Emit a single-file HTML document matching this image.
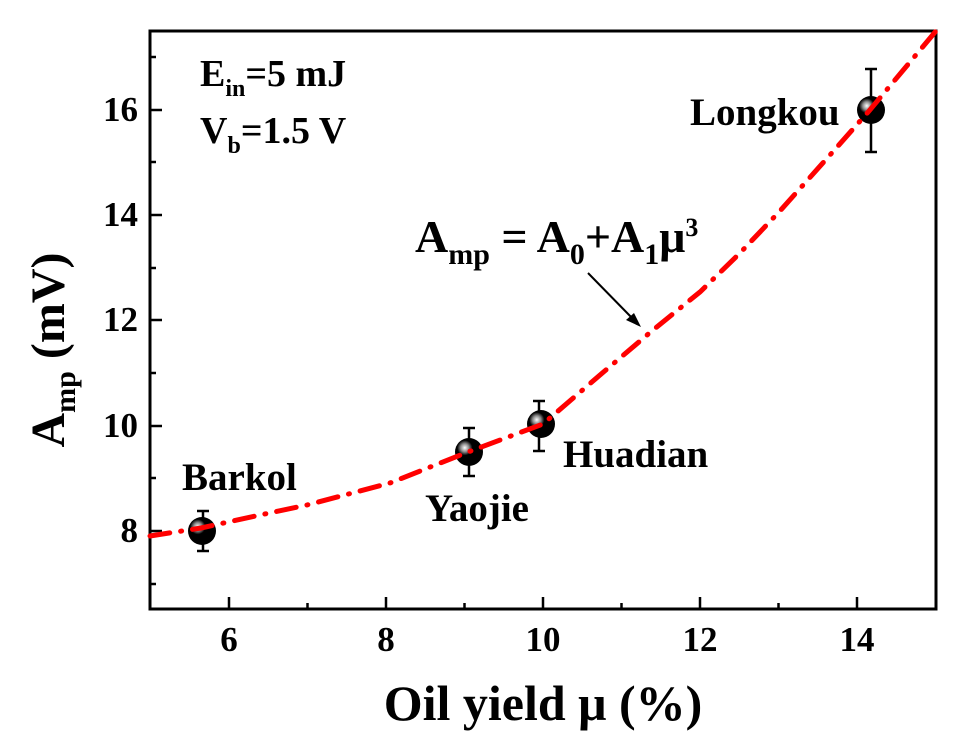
<!DOCTYPE html><html><head><style>body{margin:0;background:#fff}</style></head><body>
<svg width="957" height="742" xmlns="http://www.w3.org/2000/svg" font-family="Liberation Serif, serif" font-weight="bold">
<rect x="150" y="31" width="786" height="578" fill="none" stroke="#000" stroke-width="3"/>
<g stroke="#000" stroke-width="2.5">
<line x1="229" y1="609" x2="229" y2="597"/><line x1="386" y1="609" x2="386" y2="597"/><line x1="543" y1="609" x2="543" y2="597"/><line x1="700" y1="609" x2="700" y2="597"/><line x1="857" y1="609" x2="857" y2="597"/>
<line x1="307.5" y1="609" x2="307.5" y2="603"/><line x1="464.5" y1="609" x2="464.5" y2="603"/><line x1="621.5" y1="609" x2="621.5" y2="603"/><line x1="778.5" y1="609" x2="778.5" y2="603"/>
<line x1="150" y1="531" x2="162" y2="531"/><line x1="150" y1="426" x2="162" y2="426"/><line x1="150" y1="320" x2="162" y2="320"/><line x1="150" y1="215" x2="162" y2="215"/><line x1="150" y1="110" x2="162" y2="110"/>
<line x1="150" y1="584" x2="156" y2="584"/><line x1="150" y1="478" x2="156" y2="478"/><line x1="150" y1="373" x2="156" y2="373"/><line x1="150" y1="268" x2="156" y2="268"/><line x1="150" y1="162" x2="156" y2="162"/><line x1="150" y1="57" x2="156" y2="57"/>
</g>
<g font-size="35" text-anchor="middle">
<text x="229" y="651">6</text><text x="386" y="651">8</text><text x="543" y="651">10</text><text x="700" y="651">12</text><text x="857" y="651">14</text>
</g>
<g font-size="35" text-anchor="end">
<text x="138" y="542">8</text><text x="138" y="437">10</text><text x="138" y="331">12</text><text x="138" y="226">14</text><text x="138" y="121">16</text>
</g>
<text x="543" y="720" font-size="50" text-anchor="middle">Oil yield μ (%)</text>
<text transform="translate(64,350) rotate(-90)" font-size="48" text-anchor="middle">A<tspan font-size="30" dy="11">mp</tspan><tspan dy="-11"> (mV)</tspan></text>
<g stroke="#000" stroke-width="2.5">
<line x1="203" y1="511" x2="203" y2="551"/><line x1="197" y1="511" x2="209" y2="511"/><line x1="197" y1="551" x2="209" y2="551"/>
<line x1="469" y1="428" x2="469" y2="476"/><line x1="463" y1="428" x2="475" y2="428"/><line x1="463" y1="476" x2="475" y2="476"/>
<line x1="539" y1="401" x2="539" y2="451"/><line x1="533" y1="401" x2="545" y2="401"/><line x1="533" y1="451" x2="545" y2="451"/>
<line x1="871" y1="69" x2="871" y2="152"/><line x1="865" y1="69" x2="877" y2="69"/><line x1="865" y1="152" x2="877" y2="152"/>
</g>
<defs><radialGradient id="g" cx="0.35" cy="0.35" r="0.6"><stop offset="0" stop-color="#fff"/><stop offset="0.25" stop-color="#888"/><stop offset="0.45" stop-color="#000"/></radialGradient></defs>
<circle cx="202" cy="531" r="14" fill="url(#g)"/>
<circle cx="469" cy="452" r="14" fill="url(#g)"/>
<circle cx="541" cy="424" r="14" fill="url(#g)"/>
<circle cx="871" cy="110" r="14" fill="url(#g)"/>
<polyline points="150,536 201,528 260,515 307,505 390,483 468,452 543,424 600,375 653,330 700,292 740,253 779,212 830,155 869,111 905,68 936,31" fill="none" stroke="#f00" stroke-width="5" stroke-linecap="round" stroke-dasharray="20 11 1 11"/>
<g font-size="39">
<text x="182" y="490">Barkol</text><text x="425" y="521">Yaojie</text><text x="563" y="467">Huadian</text><text x="690" y="125">Longkou</text>
</g>
<text x="415" y="252" font-size="46">A<tspan font-size="30" dy="12">mp</tspan><tspan dy="-12"> = A</tspan><tspan font-size="30" dy="12">0</tspan><tspan dy="-12">+A</tspan><tspan font-size="30" dy="12">1</tspan><tspan dy="-12">μ</tspan><tspan font-size="26" dy="-16">3</tspan></text>
<line x1="588" y1="273" x2="634" y2="320" stroke="#000" stroke-width="2"/>
<polygon points="641,327 626,320 634,313" fill="#000"/>
<text x="200" y="86" font-size="38">E<tspan font-size="24" dy="10">in</tspan><tspan dy="-10">=5 mJ</tspan></text>
<text x="200" y="143" font-size="38">V<tspan font-size="24" dy="10">b</tspan><tspan dy="-10">=1.5 V</tspan></text>
</svg></body></html>
